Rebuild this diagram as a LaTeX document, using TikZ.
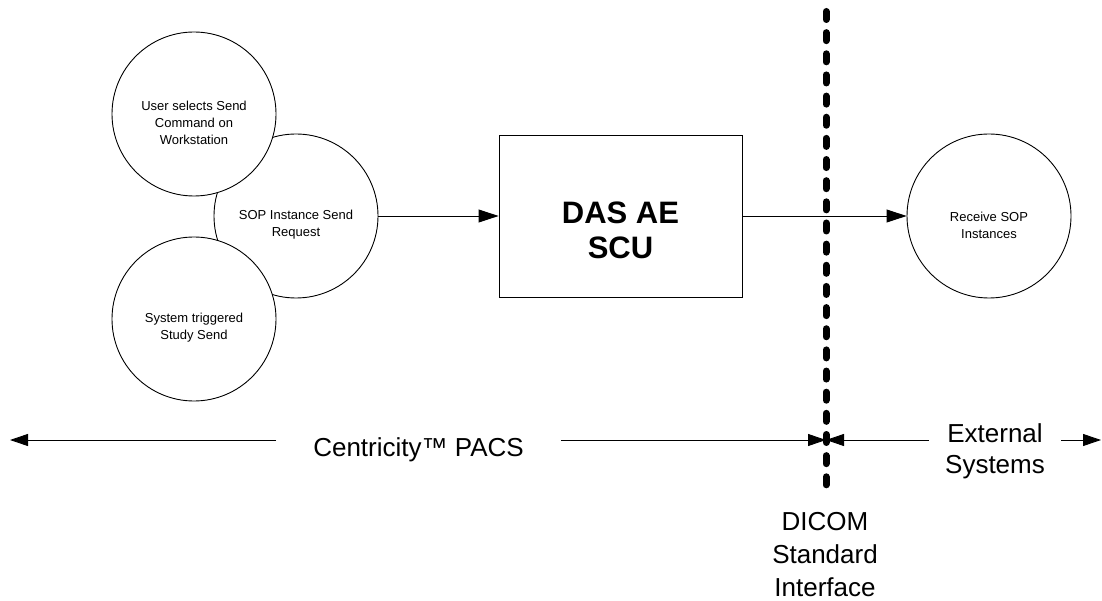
\documentclass[tikz,border=0pt]{standalone}
\usepackage{fontspec}
\setmainfont{Liberation Sans}
\usetikzlibrary{arrows.meta,positioning}

\tikzset{
  proc/.style={circle, draw, fill=white, minimum size=164pt, inner sep=0pt, line width=0.9pt},
  proctext/.style={font=\fontsize{13}{17}\selectfont, align=center},
  aebox/.style={draw, fill=white, minimum width=243pt, minimum height=162pt, inner sep=0pt, line width=0.9pt},
  aetext/.style={font=\bfseries\fontsize{31}{35}\selectfont, align=center},
  bigtext/.style={font=\fontsize{26}{31}\selectfont, align=center},
  flow/.style={-{Triangle[length=20pt,width=13pt]}, line width=0.9pt},
  span/.style={-{Triangle[length=18pt,width=12pt]}, line width=0.9pt},
  border/.style={line width=7pt, line cap=round, dash pattern=on 8pt off 13.15pt},
}

\begin{document}
\begin{tikzpicture}[x=1pt,y=-1pt]
  \useasboundingbox (0,0) rectangle (1102,601);
  % PACS side
  \node[proc, label={[proctext,yshift=-9pt]center:SOP Instance Send\\Request}] (sop) at (296,216) {};
  \node[proc, label={[proctext,yshift=-9pt]center:User selects Send\\Command on\\Workstation}] (user) at (194,114) {};
  \node[proc, label={[proctext,yshift=-9pt]center:System triggered\\Study Send}] (sys) at (194,319) {};
  \node[aebox, label={[aetext,yshift=-14pt]center:DAS AE\\SCU}] (das) at (620.5,216) {};
  % external side
  \node[proc, label={[proctext,yshift=-9pt]center:Receive SOP\\Instances}] (recv) at (989,216) {};
  \draw[flow] (sop) -- (das);
  \draw[flow] (das) -- (recv);

  % extent of both sides
  \coordinate (leftend) at (10,440);
  \coordinate (rightend) at (1101,440);
  \coordinate (dicom) at (826,440);
  \node[bigtext, inner xsep=37pt] (pacs) at (418.5,450) {Centricity™ PACS};
  \node[bigtext, inner xsep=16pt] (ext) at (995,451) {External\\Systems};
  \draw[span] (pacs.west |- leftend) -- (leftend);
  \draw[span] (pacs.east |- dicom) -- (dicom);
  \draw[span] (ext.west |- dicom) -- (dicom);
  \draw[span] (ext.east |- rightend) -- (rightend);

  % interface border
  \coordinate (bordertop) at (826,11.5);
  \coordinate (borderbot) at (826,485);
  \draw[border] (bordertop) -- (borderbot);
  \node[bigtext, font=\fontsize{26}{33}\selectfont] (iface) at (825,554.5) {DICOM\\Standard\\Interface};
\end{tikzpicture}
\end{document}
